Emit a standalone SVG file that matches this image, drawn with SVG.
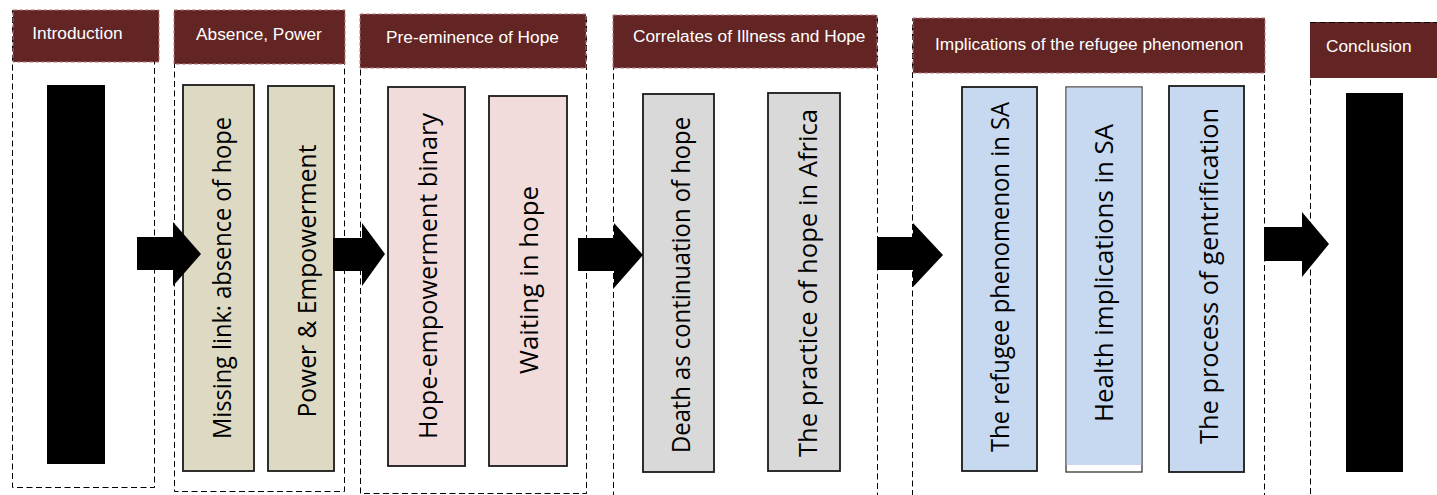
<svg xmlns="http://www.w3.org/2000/svg" width="1437" height="495" viewBox="0 0 1437 495">
  <style>
    .panel { fill: none; stroke: #000; stroke-width: 1; stroke-dasharray: 6 3.5; }
    .head { fill: #632523; stroke: #b07a86; stroke-width: 1; stroke-dasharray: 4 2; }
    .htxt { font-family: "Liberation Sans", Arial, sans-serif; fill: #fff; font-size: 17.3px; }
    .box { stroke: #1a1a1a; stroke-width: 1.8; }
    .beige { fill: #DDD9C3; }
    .pink { fill: #F2DCDB; }
    .grey { fill: #D9D9D9; }
    .blue { fill: #C6D9F1; }
    .vtxt { font-family: "Open Sans", "Noto Sans", sans-serif; font-size: 25px; fill: #000; text-anchor: middle; }
    .arrow { fill: #000; }
  </style>
  <rect width="1437" height="495" fill="#fff"/>

  <!-- Stage 1: Introduction -->
  <g id="introduction">
    <rect class="panel" x="12.5" y="10.5" width="142" height="477"/>
    <rect class="head" x="13" y="10" width="146" height="52"/>
    <text class="htxt" x="32.3" y="39">Introduction</text>
    <rect x="47" y="85" width="58" height="379" fill="#000"/>
  </g>

  <!-- Stage 2: Absence, Power -->
  <g id="absence-power">
    <rect class="panel" x="174.5" y="10.5" width="170" height="481"/>
    <rect class="head" x="174" y="10" width="171" height="54"/>
    <text class="htxt" x="196" y="40">Absence, Power</text>
    <g id="missing-link">
      <rect class="box beige" x="183" y="85" width="71" height="386" stroke-width="2.4"/>
      <text class="vtxt" transform="translate(230.5,278) rotate(-90)" textLength="322" lengthAdjust="spacingAndGlyphs">Missing link: absence of hope</text>
    </g>
    <g id="power-empowerment">
      <rect class="box beige" x="268" y="86" width="66" height="385" stroke="#333" stroke-width="1.4"/>
      <text class="vtxt" transform="translate(316,281) rotate(-90)" textLength="273" lengthAdjust="spacingAndGlyphs">Power &amp; Empowerment</text>
    </g>
  </g>

  <!-- Stage 3: Pre-eminence of Hope -->
  <g id="pre-eminence">
    <rect class="panel" x="360.5" y="14.5" width="226" height="479"/>
    <rect class="head" x="360" y="14" width="226" height="54"/>
    <text class="htxt" x="386" y="43">Pre-eminence of Hope</text>
    <g id="hope-binary">
      <rect class="box pink" x="388" y="87" width="77" height="379"/>
      <text class="vtxt" transform="translate(436.5,276) rotate(-90)" textLength="326" lengthAdjust="spacingAndGlyphs">Hope-empowerment binary</text>
    </g>
    <g id="waiting">
      <rect class="box pink" x="489" y="96" width="78" height="370"/>
      <text class="vtxt" transform="translate(538,280) rotate(-90)" textLength="188" lengthAdjust="spacingAndGlyphs">Waiting in hope</text>
    </g>
  </g>

  <!-- Stage 4: Correlates of Illness and Hope -->
  <g id="correlates">
    <rect class="panel" x="613.5" y="15.5" width="264" height="490"/>
    <rect class="head" x="613" y="15" width="264" height="53"/>
    <text class="htxt" x="633" y="42" font-size="15.2px">Correlates of Illness and Hope</text>
    <g id="death">
      <rect class="box grey" x="643" y="94" width="71" height="378"/>
      <text class="vtxt" transform="translate(690,285) rotate(-90)" textLength="336" lengthAdjust="spacingAndGlyphs">Death as continuation of hope</text>
    </g>
    <g id="practice">
      <rect class="box grey" x="768" y="93" width="72" height="378"/>
      <text class="vtxt" transform="translate(817,283) rotate(-90)" textLength="348" lengthAdjust="spacingAndGlyphs">The practice of hope in Africa</text>
    </g>
  </g>

  <!-- Stage 5: Implications of the refugee phenomenon -->
  <g id="implications">
    <rect class="panel" x="912.5" y="18.5" width="352" height="490"/>
    <rect class="head" x="913" y="18" width="352" height="55"/>
    <text class="htxt" x="935" y="50">Implications of the refugee phenomenon</text>
    <g id="refugee">
      <rect class="box blue" x="962" y="87" width="75" height="384"/>
      <text class="vtxt" transform="translate(1009,277) rotate(-90)" textLength="350" lengthAdjust="spacingAndGlyphs">The refugee phenomenon in SA</text>
    </g>
    <g id="health">
      <rect x="1066" y="87" width="76" height="385" fill="#fff" stroke="#444" stroke-width="1.4"/>
      <rect class="blue" x="1066.7" y="87.7" width="74.6" height="377.3"/>
      <text class="vtxt" transform="translate(1113,273) rotate(-90)" textLength="298" lengthAdjust="spacingAndGlyphs">Health implications in SA</text>
    </g>
    <g id="gentrification">
      <rect class="box blue" x="1169" y="86" width="75" height="386"/>
      <text class="vtxt" transform="translate(1218,276) rotate(-90)" textLength="336" lengthAdjust="spacingAndGlyphs">The process of gentrification</text>
    </g>
  </g>

  <!-- Stage 6: Conclusion -->
  <g id="conclusion">
    <rect class="panel" x="1310.5" y="22.5" width="140" height="490"/>
    <rect x="1310" y="22" width="140" height="56" fill="#632523"/>
    <line x1="1310" y1="22.5" x2="1437" y2="22.5" class="panel"/>
    <text class="htxt" x="1326" y="52" font-size="19px">Conclusion</text>
    <rect x="1346" y="93" width="57" height="379" fill="#000"/>
  </g>

  <!-- Block arrows between stages -->
  <g id="connectors">
    <polygon class="arrow" points="137,237 173,237 173,222 201,254 173,286 173,270 137,270"/>
    <polygon class="arrow" points="333,238 362,238 362,223 385,254 362,286 362,271 333,271"/>
    <polygon class="arrow" points="578,238 614,238 614,223 643,255 614,288 614,271 578,271"/>
    <polygon class="arrow" points="877,237 913,237 913,223 943,255 913,287 913,270 877,270"/>
    <polygon class="arrow" points="1264,227 1302,227 1302,212 1329,244 1302,277 1302,261 1264,261"/>
  </g>
</svg>
